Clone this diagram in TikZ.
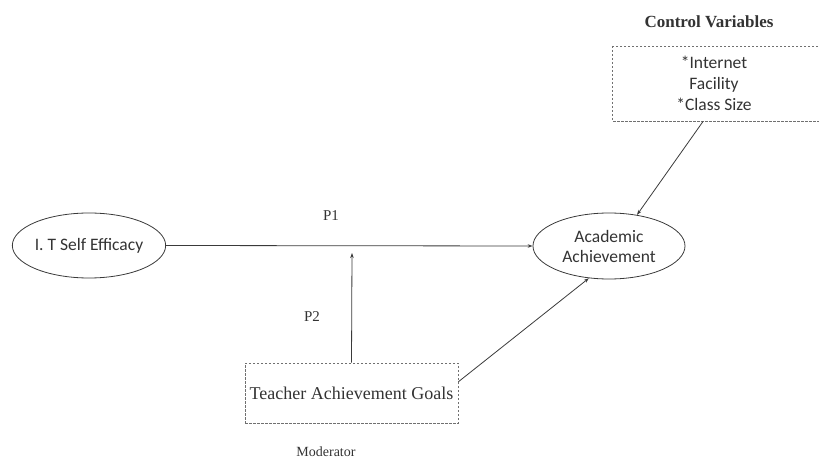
\documentclass[tikz,border=0pt]{standalone}
\usepackage{fontspec}
\setmainfont{Liberation Serif}
\setsansfont{Carlito}
\usepackage{xcolor}
\usepackage{tikz}
\usetikzlibrary{arrows.meta,positioning,shapes.geometric}
\definecolor{linec}{HTML}{3A3A3A}
\definecolor{txtc}{HTML}{333333}
\definecolor{dashc}{HTML}{707070}
\tikzset{
  ar/.style={-{Stealth[length=5pt,width=3.5pt]},line width=0.8pt,linec},
  var/.style={ellipse,draw=linec,line width=0.8pt,minimum width=152pt,minimum height=65pt,inner sep=0pt,align=center,font=\sffamily\fontsize{17.5}{20}\selectfont,text=txtc},
  dbox/.style={draw=dashc,line width=0.8pt,dash pattern=on 2.5pt off 1.5pt},
  lbl/.style={font=\fontsize{15}{18}\selectfont,text=txtc}
}

\begin{document}
\begin{tikzpicture}[x=1pt,y=-1pt]
\useasboundingbox (0,0) rectangle (819,462);
% constructs
\node[var] (ise) at (89,245.5) {I. T Self Efficacy};
\node[var,minimum height=66pt] (acad) at (609,246) {Academic\\Achievement};
\node[dbox,minimum width=213pt,minimum height=60pt,font=\fontsize{18}{21}\selectfont,text=txtc] (tag) at (351.5,393) {Teacher Achievement Goals};
\node[font=\fontsize{14}{17}\selectfont,text=txtc] (mod) at (326,452) {Moderator};
% control variables (box runs off the right edge)
\node[font=\bfseries\fontsize{17}{20}\selectfont,text=txtc] (cvt) at (709,22) {Control Variables};
\draw[dbox] (612,46) rectangle (840,121);
\node[align=center,font=\sffamily\fontsize{17.5}{21}\selectfont,text=txtc] (cv) at (714,83) {*Internet\\Facility\\*Class Size};
\coordinate (cvfoot) at (703,121.5);
\coordinate (modpt) at (352,253);
% paths
\draw[ar] (ise.east) -- (acad.west);
\draw[ar] (tag.north) -- (modpt);
\draw[ar] (tag.6) -- (acad.238);
\draw[ar] (cvfoot) -- (acad.48);
\node[lbl] (p1) at (331,216) {P1};
\node[lbl] (p2) at (312,317) {P2};
\end{tikzpicture}
\end{document}
